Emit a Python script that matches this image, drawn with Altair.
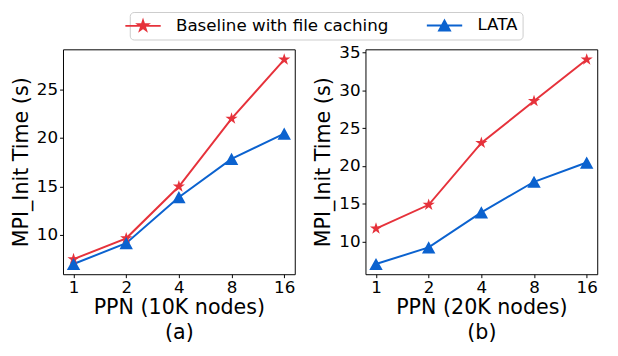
import altair as alt
import pandas as pd

# ---- data ----
ppn = ["1", "2", "4", "8", "16"]
series = ["Baseline with file caching", "LATA"]
base_10k = [7.5, 9.65, 15.0, 22.0, 28.1]
lata_10k = [7.0, 9.15, 13.9, 17.85, 20.45]
base_20k = [11.7, 14.85, 23.05, 28.6, 34.1]
lata_20k = [7.0, 9.2, 13.85, 17.9, 20.45]
yticks_a = [10, 15, 20, 25]
yticks_b = [10, 15, 20, 25, 30, 35]
colors = ["#e6323b", "#0b62cf"]

STAR = ("M0,-1.05L0.236,-0.324L0.999,-0.324L0.381,0.124L0.617,0.849"
        "L0,0.401L-0.617,0.849L-0.381,0.124L-0.999,-0.324L-0.236,-0.324Z")
TRI = "M0,-1L1.1,1L-1.1,1Z"
LINE = "M-3.6,0H3.6"
shapes = [LINE + STAR, LINE + TRI]

FONT = "DejaVu Sans"
PW, PH = 236, 229

legend = alt.Legend(
    title=None, orient="none", direction="horizontal",
    legendX=68, legendY=-38,
    labelFontSize=17, labelFont=FONT, labelColor="black", labelLimit=400,
    symbolSize=100, symbolStrokeWidth=2, labelOffset=25,
    columnPadding=34, padding=5,
    strokeColor="#cccccc", fillColor="white", cornerRadius=4,
)


def panel(base_vals, lata_vals, ydom, yticks, xtitle):
    df = pd.DataFrame({
        "ppn": ppn * 2,
        "series": [series[0]] * len(ppn) + [series[1]] * len(ppn),
        "time": base_vals + lata_vals,
    })
    x = alt.X("ppn:O", sort=ppn,
              scale=alt.Scale(type="point", padding=0.2),
              axis=alt.Axis(title=xtitle, labelAngle=0))
    y = alt.Y("time:Q",
              scale=alt.Scale(domain=ydom, nice=False, zero=False),
              axis=alt.Axis(title="MPI_Init Time (s)", values=yticks))
    line = alt.Chart(df).mark_line(strokeWidth=2).encode(
        x=x, y=y,
        color=alt.Color("series:N", scale=alt.Scale(domain=series, range=colors), legend=legend),
    )
    pts = alt.Chart(df).mark_point(filled=True, size=154, opacity=1).encode(
        x=x, y=y,
        fill=alt.Fill("series:N", scale=alt.Scale(domain=series, range=colors), legend=legend),
        shape=alt.Shape("series:N", scale=alt.Scale(domain=series, range=shapes), legend=legend),
    )
    return alt.layer(line, pts).properties(width=PW, height=PH)


a = panel(base_10k, lata_10k, [5.945, 29.155], yticks_a, ["PPN (10K nodes)", "(a)"])
b = panel(base_20k, lata_20k, [5.645, 35.455], yticks_b, ["PPN (20K nodes)", "(b)"])

chart = alt.hconcat(a, b, spacing=72, bounds="flush").resolve_scale(
    x="independent", y="independent"
).properties(
    padding={"left": 2, "top": 0, "right": 0, "bottom": 0}
).configure_view(
    stroke="black", strokeWidth=1
).configure_axis(
    labelFont=FONT, titleFont=FONT, labelFontSize=17, titleFontSize=21,
    labelColor="black", titleColor="black", titleFontWeight="normal",
    tickColor="black", tickSize=3.5, domain=False, grid=False,
    labelPadding=2, titleLineHeight=25,
).configure_axisY(titlePadding=5).configure_axisX(titlePadding=2)

chart.save("out.html", embed_options={"renderer": "svg", "actions": False})
